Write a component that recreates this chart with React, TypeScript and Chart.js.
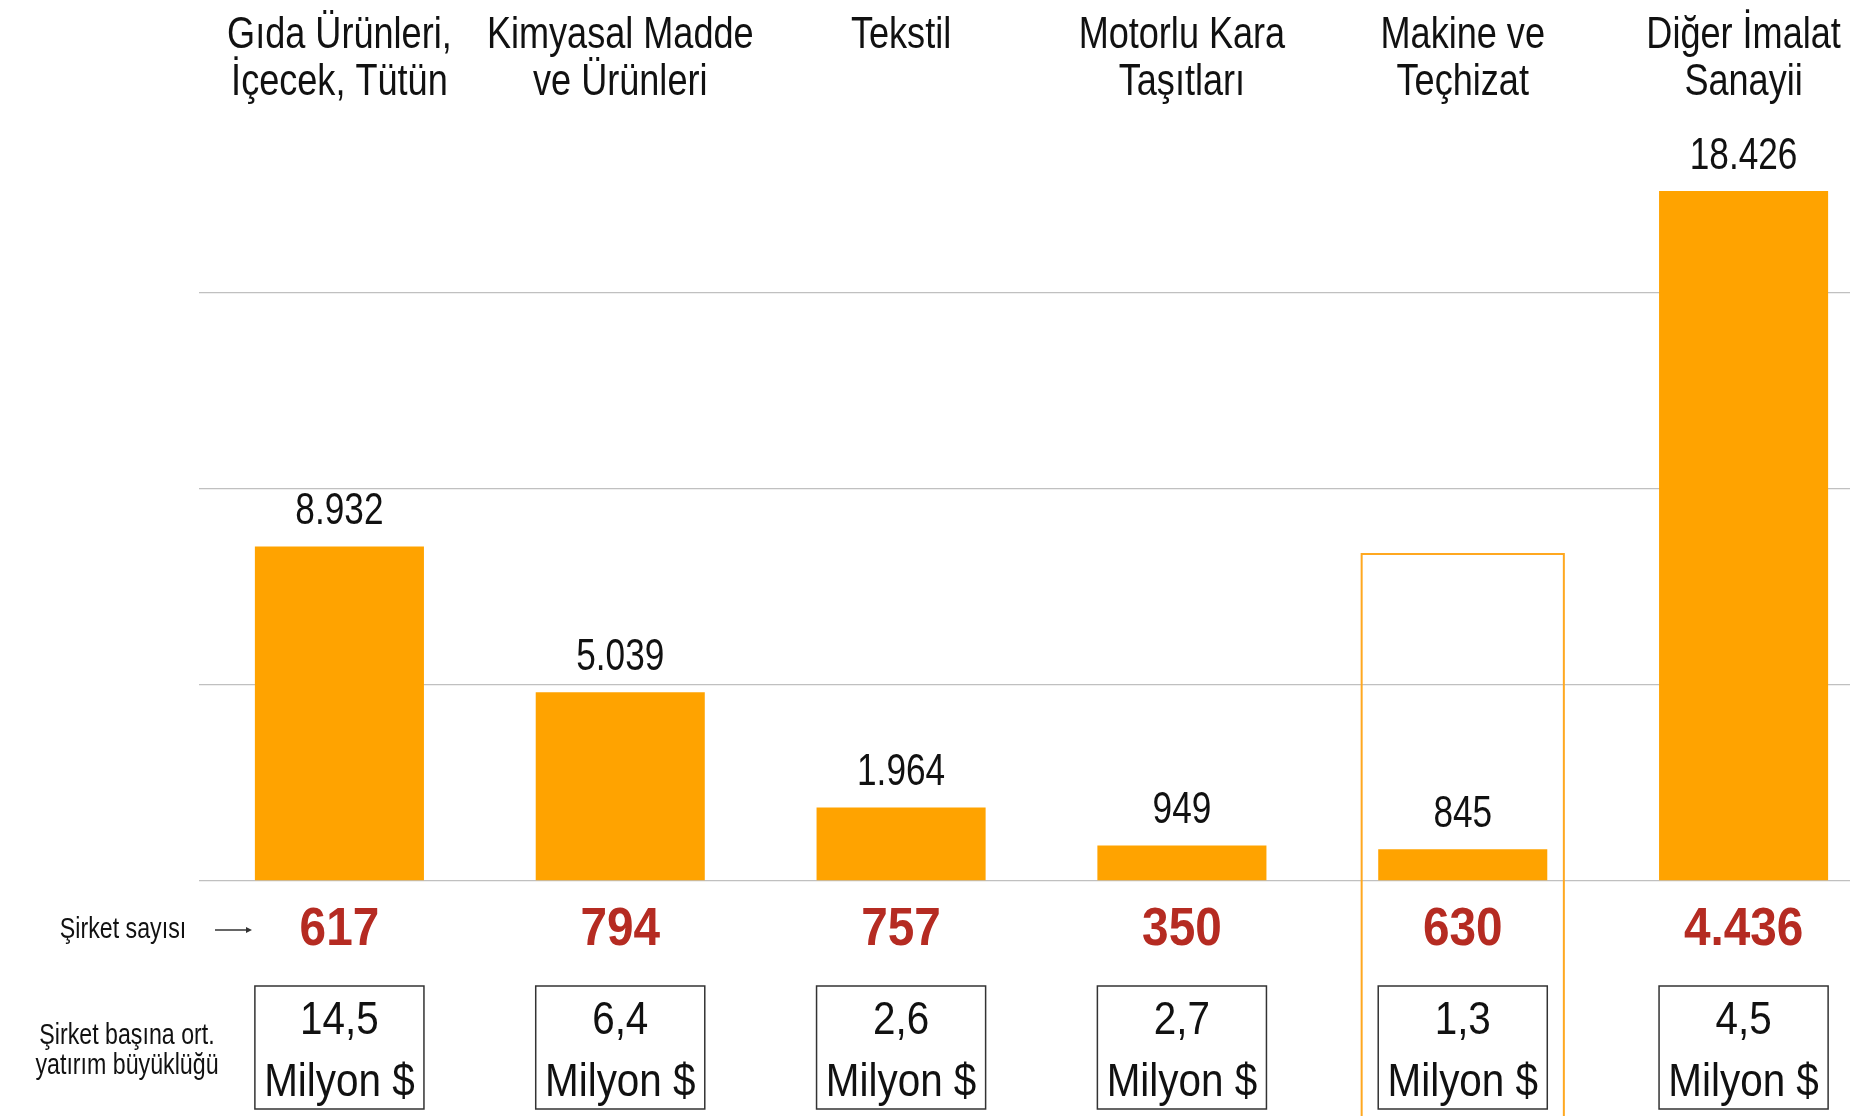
import React, { useEffect, useRef } from "react";
import { Chart, registerables } from "chart.js";

Chart.register(...registerables);

const categories: string[][] = [
  ["Gıda Ürünleri,", "İçecek, Tütün"],
  ["Kimyasal Madde", "ve Ürünleri"],
  ["Tekstil"],
  ["Motorlu Kara", "Taşıtları"],
  ["Makine ve", "Teçhizat"],
  ["Diğer İmalat", "Sanayii"],
];
const investment = [8932, 5039, 1964, 949, 845, 18426];
const companyCounts = [617, 794, 757, 350, 630, 4436];
const avgInvestment = [14.5, 6.4, 2.6, 2.7, 1.3, 4.5];
const highlightIndex = 4;
const rowLabelCount = "Şirket sayısı";
const rowLabelAvg = ["Şirket başına ort.", "yatırım büyüklüğü"];
const unitLabel = "Milyon $";
const yMax = 20000;
const gridStep = 5240;
const gridCount = 3;

const FONT = '"Liberation Sans", Arial, sans-serif';
const BAR_COLOR = "#FFA300";
const RED = "#B52B22";
const INK = "#111";

const fmtThousands = (n: number) => String(n).replace(/\B(?=(\d{3})+(?!\d))/g, ".");
const fmtDecimal = (n: number) => n.toFixed(1).replace(".", ",");

function txt(
  ctx: CanvasRenderingContext2D,
  s: string,
  x: number,
  y: number,
  size: number,
  sx: number,
  color: string,
  bold = false
) {
  ctx.save();
  ctx.translate(x, y);
  ctx.scale(sx, 1);
  ctx.font = `${bold ? "bold " : ""}${size}px ${FONT}`;
  ctx.fillStyle = color;
  ctx.textAlign = "center";
  ctx.textBaseline = "alphabetic";
  ctx.fillText(s, 0, 0);
  ctx.restore();
}

const overlayPlugin = {
  id: "overlay",
  afterDatasetsDraw(chart: any) {
    const ctx = chart.ctx as CanvasRenderingContext2D;
    const xScale = chart.scales.x;
    const meta = chart.getDatasetMeta(0);
    const catW = xScale.getPixelForValue(1) - xScale.getPixelForValue(0);
    ctx.save();

    // highlight outline
    {
      const cx = xScale.getPixelForValue(highlightIndex);
      const half = catW * 0.36;
      ctx.strokeStyle = "#FFA820";
      ctx.lineWidth = 2;
      ctx.beginPath();
      ctx.moveTo(cx - half, 1130);
      ctx.lineTo(cx - half, 554);
      ctx.lineTo(cx + half, 554);
      ctx.lineTo(cx + half, 1130);
      ctx.stroke();
    }

    meta.data.forEach((bar: any, i: number) => {
      const { x, y, width } = bar.getProps(["x", "y", "width"], true);
      // category labels
      categories[i].forEach((line, j) => txt(ctx, line, x, 48 + j * 47, 44, 0.82, INK));
      // value labels
      txt(ctx, fmtThousands(investment[i]), x, y - 22, 44, 0.8, INK);
      // company counts
      txt(ctx, fmtThousands(companyCounts[i]), x, 945, 53, 0.9, RED, true);
      // boxes
      ctx.strokeStyle = "#333";
      ctx.lineWidth = 1.5;
      ctx.strokeRect(x - width / 2, 986, width, 123);
      txt(ctx, fmtDecimal(avgInvestment[i]), x, 1034, 47, 0.86, INK);
      txt(ctx, unitLabel, x, 1096, 47, 0.86, INK);
    });

    // row labels
    txt(ctx, rowLabelCount, 123, 938, 29, 0.8, INK);
    rowLabelAvg.forEach((line, j) => txt(ctx, line, 127, 1044 + j * 30, 29, 0.8, INK));

    // arrow
    ctx.strokeStyle = "#333";
    ctx.fillStyle = "#333";
    ctx.lineWidth = 1.5;
    ctx.beginPath();
    ctx.moveTo(215, 930);
    ctx.lineTo(248, 930);
    ctx.stroke();
    ctx.beginPath();
    ctx.moveTo(252, 930);
    ctx.lineTo(246, 927);
    ctx.lineTo(246, 933);
    ctx.closePath();
    ctx.fill();

    ctx.restore();
  },
};

export default function App() {
  const ref = useRef<HTMLCanvasElement>(null);
  useEffect(() => {
    if (!ref.current) return;
    const chart = new Chart(ref.current, {
      type: "bar",
      data: {
        labels: categories.map((c) => c.join(" ")),
        datasets: [
          {
            data: investment,
            backgroundColor: BAR_COLOR,
            borderWidth: 0,
            barPercentage: 0.602,
            categoryPercentage: 1,
          },
        ],
      },
      options: {
        animation: false,
        responsive: false,
        events: [],
        layout: { padding: { left: 199, right: 0, top: 132, bottom: 235 } },
        plugins: { legend: { display: false }, tooltip: { enabled: false } },
        scales: {
          x: { display: false },
          y: {
            min: 0,
            max: yMax,
            border: { display: false },
            grid: { color: "#C0C0C0", lineWidth: 1.3, drawTicks: false },
            ticks: { display: false },
            afterBuildTicks: (scale: any) => {
              scale.ticks = Array.from({ length: gridCount + 1 }, (_, k) => ({ value: k * gridStep }));
            },
          },
        },
      },
      plugins: [overlayPlugin],
    });
    return () => chart.destroy();
  }, []);
  return (
    <div
      style={{
        position: "fixed",
        left: 0,
        top: 0,
        width: 1850,
        height: 1116,
        overflow: "hidden",
        background: "#fff",
      }}
    >
      <canvas ref={ref} width={1884} height={1116} style={{ display: "block" }} />
    </div>
  );
}
